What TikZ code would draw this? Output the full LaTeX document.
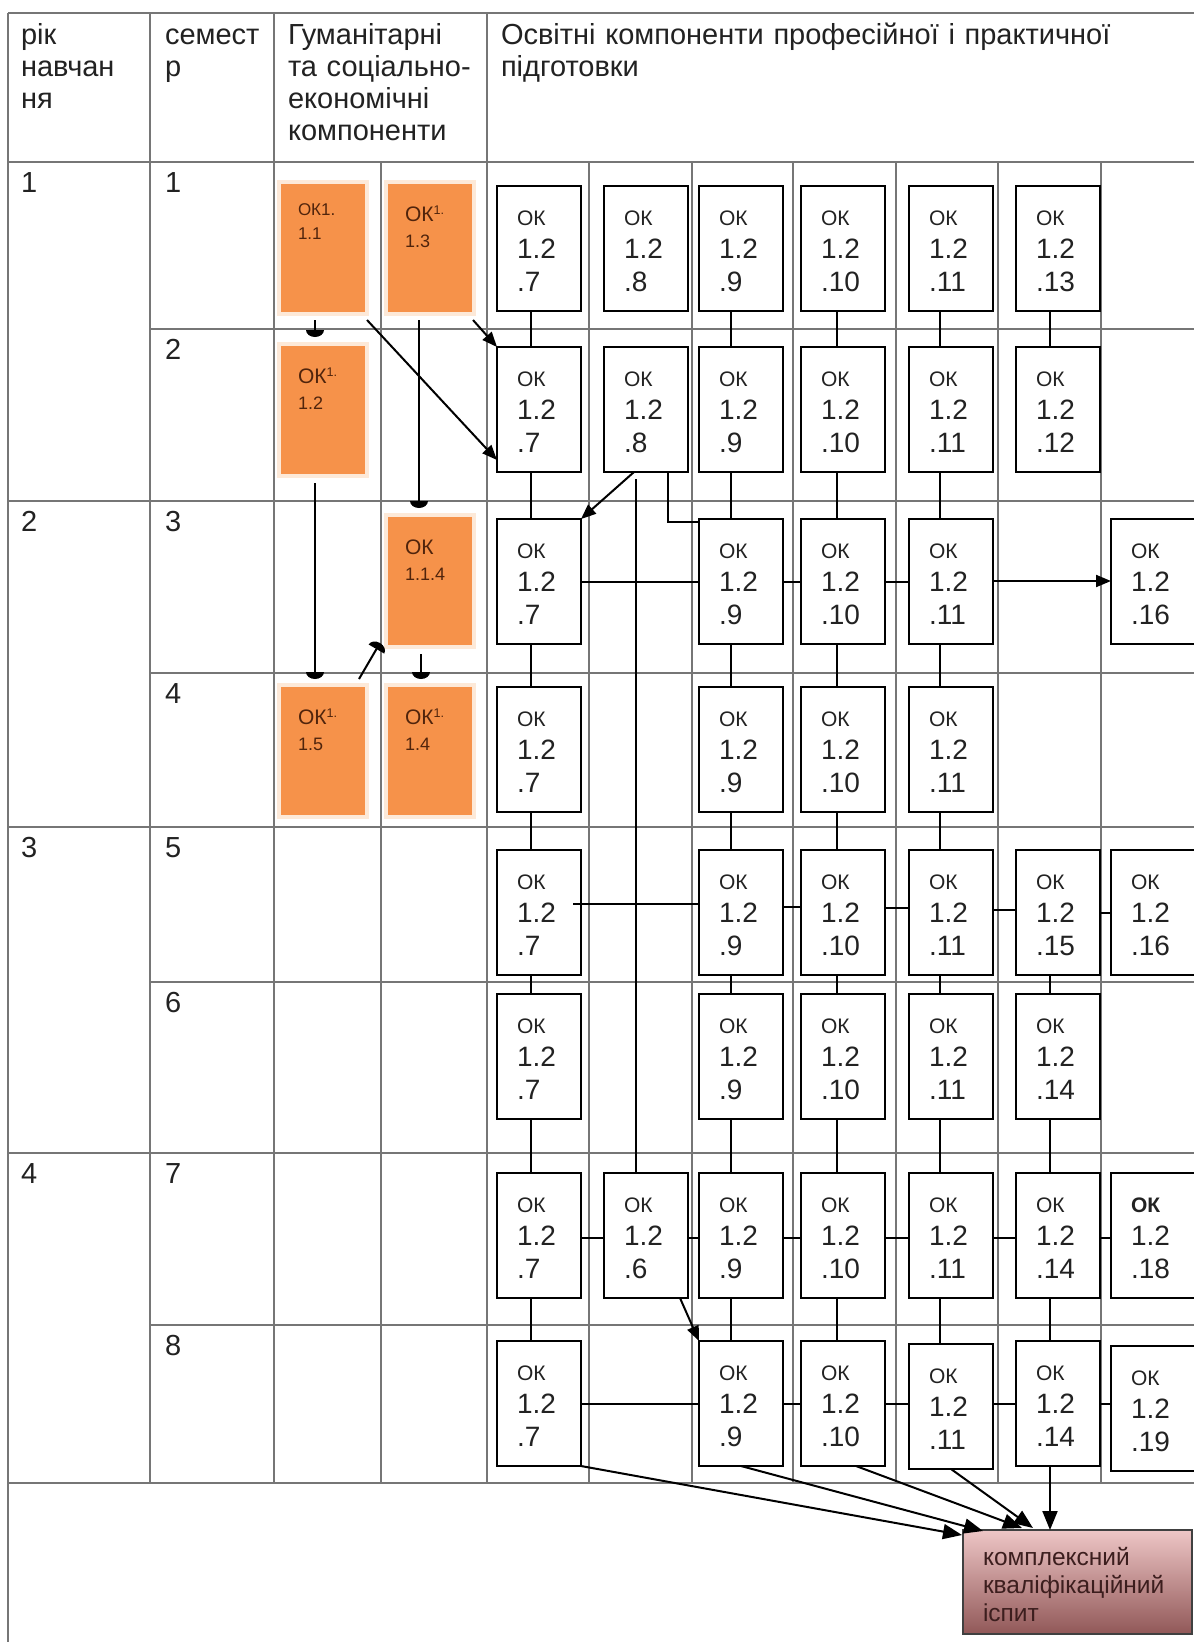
\documentclass[tikz,border=0pt]{standalone}
\usepackage{fontspec}
\setmainfont{Liberation Sans}
\usetikzlibrary{arrows.meta,calc}
\definecolor{gridc}{RGB}{118,118,118}
\definecolor{okorange}{RGB}{246,146,74}
\definecolor{okpeach}{RGB}{253,233,216}
\definecolor{oktext}{RGB}{80,36,12}
\definecolor{ink}{RGB}{34,34,34}
\definecolor{examtop}{RGB}{238,198,198}
\definecolor{exambot}{RGB}{145,88,88}
\definecolor{examtext}{RGB}{60,30,30}
\pgfdeclarearrow{
  name = HalfDisc,
  parameters = {\the\pgfarrowlength,\the\pgfarrowwidth},
  setup code = {
    \pgfarrowssettipend{0pt}
    \pgfarrowssetlineend{-\pgfarrowlength}
    \pgfarrowssetvisualbackend{-\pgfarrowlength}
    \pgfarrowssetbackend{-\pgfarrowlength}
    \pgfarrowshullpoint{0pt}{0pt}
    \pgfarrowsupperhullpoint{-\pgfarrowlength}{.5\pgfarrowwidth}
    \pgfarrowssavethe\pgfarrowlength
    \pgfarrowssavethe\pgfarrowwidth
  },
  drawing code = {
    \pgfpathmoveto{\pgfqpoint{-\pgfarrowlength}{.5\pgfarrowwidth}}
    \pgfpatharc{90}{-90}{\pgfarrowlength and .5\pgfarrowwidth}
    \pgfpathclose
    \pgfusepathqfill
  },
  defaults = {length = 7pt, width = 18pt}
}
\newcommand{\oklab}[1]{{\fontsize{21}{33}\selectfont ОК}\\1.2\\.#1}
\newcommand{\okbold}[1]{{\fontsize{21}{33}\selectfont\bfseries ОК}\\1.2\\.#1}
\newcommand{\oksup}[1]{{\fontsize{21}{26}\selectfont ОК}\textsuperscript{1.}\\#1}
\begin{document}
\begin{tikzpicture}[x=1pt,y=-1pt,
  gridline/.style={draw=gridc,line width=1.6pt},
  hdr/.style={anchor=north west,inner sep=0pt,outer sep=0pt,text width=#1,align=left,text height=31pt,font=\fontsize{29}{32}\selectfont,text=ink},
  lbl/.style={anchor=base west,inner sep=0pt,font=\fontsize{29}{32}\selectfont,text=ink},
  wbox/.style={draw=black,line width=2.4pt,fill=white,anchor=north west,minimum width=84pt,minimum height=125pt,inner sep=0pt,outer sep=0pt,text width=44pt,align=left,text height=39pt,text depth=86pt,font=\fontsize{28}{33}\selectfont,text=ink},
  obox/.style={fill=okorange,draw=okpeach,line width=4pt,anchor=north west,minimum width=88pt,minimum height=132pt,inner sep=0pt,outer sep=0pt,text width=50pt,align=left,text height=39pt,text depth=93pt,font=\fontsize{18}{26}\selectfont,text=oktext},
  exambox/.style={draw=black!75,line width=2pt,top color=examtop,bottom color=exambot,anchor=north west,minimum width=229pt,minimum height=104pt,inner sep=0pt,outer sep=0pt,text width=189pt,align=left,text height=35pt,text depth=69pt,font=\fontsize{24.5}{28}\selectfont,text=examtext},
  conn/.style={draw=black,line width=2pt},
  arr/.style={conn,-{Triangle[length=15pt,width=12pt]}},
  bigarr/.style={conn,-{Triangle[length=19pt,width=15pt]}},
  tarr/.style={conn,-{HalfDisc[length=7pt,width=18pt]}}
]
\useasboundingbox[fill=white] (0,0) rectangle (1194,1642);

% table grid
\draw[gridline] (8,13) -- (1194,13);
\draw[gridline] (8,162) -- (1194,162);
\foreach \yy in {329,673,982,1325} \draw[gridline] (150,\yy) -- (1194,\yy);
\foreach \yy in {501,827,1153,1483} \draw[gridline] (8,\yy) -- (1194,\yy);
\draw[gridline] (8,13) -- (8,1642);
\foreach \xx in {150,274,487} \draw[gridline] (\xx,13) -- (\xx,1483);
\foreach \xx in {381,589,692,793,896,998,1101} \draw[gridline] (\xx,162) -- (\xx,1483);

% headers
\node[hdr=125pt] (h1) at (21,13) {рік\\навчан\\ня};
\node[hdr=110pt] (h2) at (165,13) {семест\\р};
\node[hdr=250pt] (h3) at (288,13) {Гуманітарні\\та соціально-\\економічні\\компоненти};
\node[hdr=690pt] (h4) at (501,13) {Освітні компоненти професійної і практичної\\підготовки};

% row labels
\node[lbl] (y1) at (21,192) {1};
\node[lbl] (y2) at (21,531) {2};
\node[lbl] (y3) at (21,857) {3};
\node[lbl] (y4) at (21,1183) {4};
\node[lbl] (s1) at (165,192) {1};
\node[lbl] (s2) at (165,359) {2};
\node[lbl] (s3) at (165,531) {3};
\node[lbl] (s4) at (165,703) {4};
\node[lbl] (s5) at (165,857) {5};
\node[lbl] (s6) at (165,1012) {6};
\node[lbl] (s7) at (165,1183) {7};
\node[lbl] (s8) at (165,1355) {8};

% orange boxes
\node[obox,text height=33pt,text depth=99pt,font=\fontsize{17}{24}\selectfont] (o11) at (279,182) {ОК1.\\1.1};
\node[obox] (o13) at (386,182) {\oksup{1.3}};
\node[obox] (o12) at (279,344) {\oksup{1.2}};
\node[obox] (o14) at (386,515) {{\fontsize{21}{26}\selectfont ОК}\\1.1.4};
\node[obox] (o15) at (279,685) {\oksup{1.5}};
\node[obox] (o4) at (386,685) {\oksup{1.4}};

% white boxes row 1
\node[wbox] (b7r1) at (497,186) {\oklab{7}};
\node[wbox] (b8r1) at (604,186) {\oklab{8}};
\node[wbox] (b9r1) at (699,186) {\oklab{9}};
\node[wbox] (b10r1) at (801,186) {\oklab{10}};
\node[wbox] (b11r1) at (909,186) {\oklab{11}};
\node[wbox] (b13r1) at (1016,186) {\oklab{13}};
% row 2
\node[wbox] (b7r2) at (497,347) {\oklab{7}};
\node[wbox] (b8r2) at (604,347) {\oklab{8}};
\node[wbox] (b9r2) at (699,347) {\oklab{9}};
\node[wbox] (b10r2) at (801,347) {\oklab{10}};
\node[wbox] (b11r2) at (909,347) {\oklab{11}};
\node[wbox] (b12r2) at (1016,347) {\oklab{12}};
% row 3
\node[wbox] (b7r3) at (497,519) {\oklab{7}};
\node[wbox] (b9r3) at (699,519) {\oklab{9}};
\node[wbox] (b10r3) at (801,519) {\oklab{10}};
\node[wbox] (b11r3) at (909,519) {\oklab{11}};
\node[wbox] (b16r3) at (1111,519) {\oklab{16}};
% row 4
\node[wbox] (b7r4) at (497,687) {\oklab{7}};
\node[wbox] (b9r4) at (699,687) {\oklab{9}};
\node[wbox] (b10r4) at (801,687) {\oklab{10}};
\node[wbox] (b11r4) at (909,687) {\oklab{11}};
% row 5
\node[wbox] (b7r5) at (497,850) {\oklab{7}};
\node[wbox] (b9r5) at (699,850) {\oklab{9}};
\node[wbox] (b10r5) at (801,850) {\oklab{10}};
\node[wbox] (b11r5) at (909,850) {\oklab{11}};
\node[wbox] (b15r5) at (1016,850) {\oklab{15}};
\node[wbox] (b16r5) at (1111,850) {\oklab{16}};
% row 6
\node[wbox] (b7r6) at (497,994) {\oklab{7}};
\node[wbox] (b9r6) at (699,994) {\oklab{9}};
\node[wbox] (b10r6) at (801,994) {\oklab{10}};
\node[wbox] (b11r6) at (909,994) {\oklab{11}};
\node[wbox] (b14r6) at (1016,994) {\oklab{14}};
% row 7
\node[wbox] (b7r7) at (497,1173) {\oklab{7}};
\node[wbox] (b6r7) at (604,1173) {\oklab{6}};
\node[wbox] (b9r7) at (699,1173) {\oklab{9}};
\node[wbox] (b10r7) at (801,1173) {\oklab{10}};
\node[wbox] (b11r7) at (909,1173) {\oklab{11}};
\node[wbox] (b14r7) at (1016,1173) {\oklab{14}};
\node[wbox] (b18r7) at (1111,1173) {\okbold{18}};
% row 8
\node[wbox] (b7r8) at (497,1341) {\oklab{7}};
\node[wbox] (b9r8) at (699,1341) {\oklab{9}};
\node[wbox] (b10r8) at (801,1341) {\oklab{10}};
\node[wbox] (b11r8) at (909,1344) {\oklab{11}};
\node[wbox] (b14r8) at (1016,1341) {\oklab{14}};
\node[wbox] (b19r8) at (1111,1346) {\oklab{19}};

% exam box
\node[exambox] (exam) at (963,1530) {комплексний\\кваліфікаційний\\іспит};

% vertical column connectors
\foreach \c/\xx in {7/531,9/731,10/837,11/940}{
  \foreach \r [evaluate=\r as \rn using int(\r+1)] in {1,...,7}{
    \draw[conn] (b\c r\r.south -| \xx,0) -- (b\c r\rn.north -| \xx,0);
  }
}
\draw[conn] (b13r1.south -| 1050,0) -- (b12r2.north -| 1050,0);
\draw[conn] (b15r5.south -| 1050,0) -- (b14r6.north -| 1050,0);
\draw[conn] (b14r6.south -| 1050,0) -- (b14r7.north -| 1050,0);
\draw[conn] (b14r7.south -| 1050,0) -- (b14r8.north -| 1050,0);

% horizontal connectors
\foreach \a/\b in {b7r3/b9r3,b9r3/b10r3,b10r3/b11r3}
  \draw[conn] (\a.east |- 0,582) -- (\b.west |- 0,582);
\draw[arr] (b11r3.east |- 0,581) -- (b16r3.west |- 0,581);
\draw[conn] ($(b7r5.east |- 0,904)+(-8,0)$) -- (b9r5.west |- 0,904);
\draw[conn] (b9r5.east |- 0,907) -- (b10r5.west |- 0,907);
\draw[conn] (b10r5.east |- 0,908) -- (b11r5.west |- 0,908);
\draw[conn] (b11r5.east |- 0,910) -- (b15r5.west |- 0,910);
\draw[conn] (b15r5.east |- 0,913) -- (b16r5.west |- 0,913);
\foreach \a/\b in {b7r7/b6r7,b6r7/b9r7,b9r7/b10r7,b10r7/b11r7,b11r7/b14r7,b14r7/b18r7}
  \draw[conn] (\a.east |- 0,1238) -- (\b.west |- 0,1238);
\foreach \a/\b in {b7r8/b9r8,b9r8/b10r8,b10r8/b11r8,b11r8/b14r8,b14r8/b19r8}
  \draw[conn] (\a.east |- 0,1404) -- (\b.west |- 0,1404);

% orange links
\draw[tarr,shorten <=6pt,shorten >=7pt] (o11.south -| 315,0) -- (o12.north -| 315,0);
\draw[tarr,shorten <=6pt,shorten >=7pt] (o13.south -| 419,0) -- (o14.north -| 419,0);
\draw[tarr,shorten <=7pt,shorten >=6pt] (o12.south -| 315,0) -- (o15.north -| 315,0);
\draw[tarr,shorten <=7pt,shorten >=6pt] (o14.south -| 421,0) -- (o4.north -| 421,0);
\draw[tarr] ($(o15.north east)+(-8,-6)$) -- ($(o14.south west)+(-6,-4)$);
\draw[arr] ($(o11.south east)+(0,6)$) -- (b7r2.west |- 0,460);
\draw[arr] ($(o13.south east)+(-1,6)$) -- (b7r2.north west);

% links from 1.2.8
\draw[arr] (b8r2.south -| 634,0) -- (b7r3.north east);
\draw[conn,shorten <=7pt] (b8r2.south -| 636,0) -- (b6r7.north -| 636,0);
\draw[conn] (b8r2.south -| 668,0) |- (b9r3.west |- 0,522);
\draw[arr] (b6r7.south -| 680,0) -- (b9r8.north west);

% links to the exam
\draw[bigarr] (b7r8.south east) -- ($(exam.north west)+(-1,5)$);
\draw[bigarr] (b9r8.south) -- ($(exam.north west)+(20,1)$);
\draw[bigarr] ($(b10r8.south)+(13,0)$) -- ($(exam.north west)+(59,-2)$);
\draw[bigarr] (b11r8.south) -- ($(exam.north west)+(70,-2)$);
\draw[bigarr] (b14r8.south -| 1050,0) -- (exam.north -| 1050,0);
\end{tikzpicture}
\end{document}
